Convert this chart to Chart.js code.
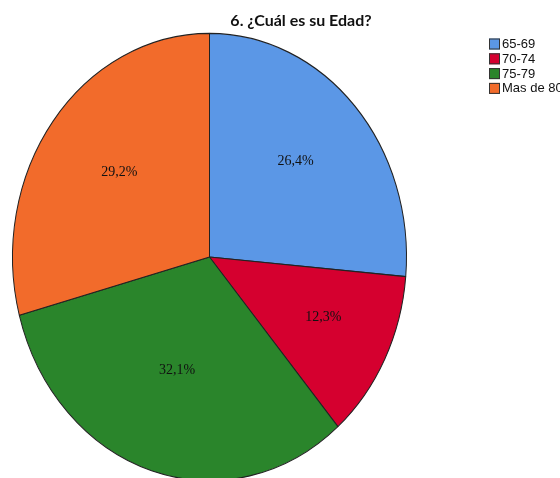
<!DOCTYPE html>
<html>
<head>
<meta charset="utf-8">
<script src="https://cdn.jsdelivr.net/npm/chart.js@4.4.0/dist/chart.umd.min.js"></script>
<style>
  body { margin: 0; background: #fff; }
  canvas { display: block; }
</style>
</head>
<body>
<canvas id="edadChart" width="560" height="478"></canvas>
<script>
const categories = ['65-69', '70-74', '75-79', 'Mas de 80'];
const percents = [26.4, 12.3, 32.1, 29.2];
const colors = ['#5B97E6', '#D5002F', '#2A852B', '#F26B2B'];
const titleText = '6. \u00bfCu\u00e1l es su Edad?';

// SPSS draws the pie a bit taller than wide
const stretchY = 1.135;

function fmt(v) {
  return v.toFixed(1).replace('.', ',') + '%';
}

const ellipsePlugin = {
  id: 'ellipse',
  beforeDatasetsDraw: function(chart) {
    const arc = chart.getDatasetMeta(0).data[0];
    const ctx = chart.ctx;
    ctx.save();
    ctx.translate(arc.x, arc.y);
    ctx.scale(1, stretchY);
    ctx.translate(-arc.x, -arc.y);
  },
  afterDatasetsDraw: function(chart) {
    const ctx = chart.ctx;
    ctx.restore();
    const meta = chart.getDatasetMeta(0);
    ctx.save();
    ctx.font = '14px "Liberation Serif", serif';
    ctx.fillStyle = '#111';
    ctx.textAlign = 'center';
    ctx.textBaseline = 'middle';
    meta.data.forEach(function(arc, i) {
      const half = (arc.endAngle - arc.startAngle) / 2;
      const mid = arc.startAngle + half;
      // centroid of the sector, nudged up a little
      const d = arc.outerRadius * 2 * Math.sin(half) / (3 * half);
      const x = arc.x + Math.cos(mid) * d;
      const y = arc.y + Math.sin(mid) * d * stretchY - 6;
      ctx.fillText(fmt(percents[i]), x, y);
    });
    ctx.restore();
  },
  afterDraw: function(chart) {
    const ctx = chart.ctx;
    ctx.save();
    ctx.font = 'bold 16px Lato, "Liberation Sans", sans-serif';
    ctx.fillStyle = '#111';
    ctx.textAlign = 'center';
    ctx.textBaseline = 'alphabetic';
    ctx.fillText(titleText, 301, 26);

    ctx.font = '13px "Liberation Sans", sans-serif';
    ctx.textAlign = 'left';
    ctx.textBaseline = 'middle';
    categories.forEach(function(cat, i) {
      const y = 44 + i * 14.8;
      ctx.fillStyle = colors[i];
      ctx.fillRect(489, y - 5.5, 11, 11);
      ctx.strokeStyle = '#333';
      ctx.lineWidth = 1;
      ctx.strokeRect(489.5, y - 5, 10, 10);
      ctx.fillStyle = '#111';
      ctx.fillText(cat, 502, y + 0.5);
    });
    ctx.restore();
  }
};

const ctx = document.getElementById('edadChart').getContext('2d');
new Chart(ctx, {
  type: 'pie',
  data: {
    labels: categories,
    datasets: [{
      data: percents,
      backgroundColor: colors,
      borderColor: '#222',
      borderWidth: 1
    }]
  },
  options: {
    responsive: false,
    animation: false,
    events: [],
    layout: {
      padding: { left: 12, right: 153, top: 57, bottom: 21 }
    },
    plugins: {
      legend: { display: false },
      title: { display: false },
      tooltip: { enabled: false }
    }
  },
  plugins: [ellipsePlugin]
});
</script>
</body>
</html>
